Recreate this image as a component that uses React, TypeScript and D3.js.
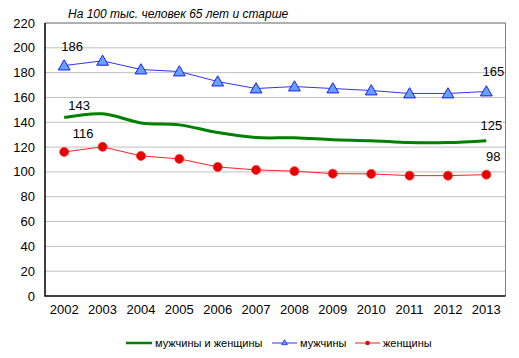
import { useEffect, useRef } from 'react';
import * as d3 from 'd3';

const years = ['2002', '2003', '2004', '2005', '2006', '2007', '2008', '2009', '2010', '2011', '2012', '2013'];
const total = [143.8, 146.8, 139.5, 137.9, 131.7, 127.7, 127.5, 126, 125.2, 123.6, 123.6, 125.2];
const men = [185.7, 189.5, 182.5, 180.9, 172.8, 167.2, 168.8, 167.2, 165.6, 163.2, 163.2, 164.8];
const women = [116.1, 120.2, 112.9, 110.5, 104, 101.6, 100.6, 98.6, 98.4, 97, 97, 97.8];
const yTicks = [0, 20, 40, 60, 80, 100, 120, 140, 160, 180, 200, 220];

const FONT = 'Arial, "Liberation Sans", sans-serif';

export default function App() {
  const svgRef = useRef<SVGSVGElement>(null);

  useEffect(() => {
    if (!svgRef.current) return;
    const width = 519;
    const height = 358;
    const m = { left: 45, right: 13.5, top: 23, bottom: 62 };

    const svg = d3.select(svgRef.current);
    svg.selectAll('*').remove();
    svg.attr('width', width).attr('height', height);

    svg.append('rect').attr('width', width).attr('height', height).style('fill', '#fff');

    const x = d3.scaleBand().domain(years).range([m.left, width - m.right]);
    const y = d3.scaleLinear().domain([0, 220]).range([height - m.bottom, m.top]);
    const cx = (i: number) => (x(years[i]) as number) + x.bandwidth() / 2;

    // grid
    svg.append('g')
      .selectAll('line')
      .data(yTicks.slice(1))
      .enter()
      .append('line')
      .attr('x1', m.left).attr('x2', width - m.right)
      .attr('y1', d => y(d)).attr('y2', d => y(d))
      .style('stroke', '#c0c0c0')
      .style('stroke-width', 1);

    // plot border (top, right)
    svg.append('path')
      .attr('d', `M${m.left},${y(220)}H${width - m.right}V${y(0)}`)
      .style('fill', 'none')
      .style('stroke', '#808080')
      .style('stroke-width', 1);

    // axes
    svg.append('path')
      .attr('d', `M${m.left},${y(220)}V${y(0)}H${width - m.right}`)
      .style('fill', 'none')
      .style('stroke', '#000')
      .style('stroke-width', 1.5);

    svg.append('g')
      .selectAll('text')
      .data(yTicks)
      .enter()
      .append('text')
      .attr('x', 35)
      .attr('y', d => y(d))
      .attr('dy', '0.35em')
      .attr('text-anchor', 'end')
      .text(d => d)
      .style('font-family', FONT)
      .style('font-size', '13px')
      .style('fill', '#000');

    svg.append('g')
      .selectAll('text')
      .data(years)
      .enter()
      .append('text')
      .attr('x', (_, i) => cx(i))
      .attr('y', y(0) + 13)
      .attr('dy', '0.35em')
      .attr('text-anchor', 'middle')
      .text(d => d)
      .style('font-family', FONT)
      .style('font-size', '13px')
      .style('fill', '#000');

    // title
    svg.append('text')
      .attr('x', 68)
      .attr('y', 14)
      .attr('dy', '0.35em')
      .text('На 100 тыс. человек 65 лет и старше')
      .style('font-family', FONT)
      .style('font-size', '12px')
      .style('font-style', 'italic')
      .style('fill', '#000');

    const straight = d3.line<number>().x((_, i) => cx(i)).y(d => y(d));
    const smooth = d3.line<number>().x((_, i) => cx(i)).y(d => y(d)).curve(d3.curveCatmullRom.alpha(0.5));

    // total (smoothed, thick green)
    svg.append('path')
      .attr('d', smooth(total) as string)
      .style('fill', 'none')
      .style('stroke', '#008000')
      .style('stroke-width', 3);

    // men
    svg.append('path')
      .attr('d', straight(men) as string)
      .style('fill', 'none')
      .style('stroke', '#3333ff')
      .style('stroke-width', 1);

    const tri = d3.symbol().type(d3.symbolTriangle).size(60);
    svg.append('g')
      .selectAll('path')
      .data(men)
      .enter()
      .append('path')
      .attr('d', tri() as string)
      .attr('transform', (d, i) => `translate(${cx(i)},${y(d) + 1})`)
      .style('fill', '#66a3ff')
      .style('stroke', '#1a1aff')
      .style('stroke-width', 1);

    // women
    svg.append('path')
      .attr('d', straight(women) as string)
      .style('fill', 'none')
      .style('stroke', '#ff2020')
      .style('stroke-width', 1);

    svg.append('g')
      .selectAll('circle')
      .data(women)
      .enter()
      .append('circle')
      .attr('cx', (_, i) => cx(i))
      .attr('cy', d => y(d))
      .attr('r', 4.5)
      .style('fill', '#e60000')
      .style('stroke', '#ff3030')
      .style('stroke-width', 0.8);

    // value labels at ends
    const last = years.length - 1;
    const labels = [
      { t: '186', x: cx(0) + 8, y: y(men[0]) - 19 },
      { t: '143', x: cx(0) + 15, y: y(total[0]) - 12 },
      { t: '116', x: cx(0) + 19, y: y(women[0]) - 18 },
      { t: '165', x: cx(last) + 7, y: y(men[last]) - 20 },
      { t: '125', x: cx(last) + 5, y: y(total[last]) - 15 },
      { t: '98', x: cx(last) + 7, y: y(women[last]) - 18 },
    ];
    svg.append('g')
      .selectAll('text')
      .data(labels)
      .enter()
      .append('text')
      .attr('x', d => d.x)
      .attr('y', d => d.y)
      .attr('dy', '0.35em')
      .attr('text-anchor', 'middle')
      .text(d => d.t)
      .style('font-family', FONT)
      .style('font-size', '13px')
      .style('fill', '#000');

    // legend
    const ly = 343;
    const legend = svg.append('g').style('font-family', FONT).style('font-size', '11px');
    legend.append('line').attr('x1', 126).attr('x2', 152).attr('y1', ly).attr('y2', ly)
      .style('stroke', '#008000').style('stroke-width', 2.5);
    legend.append('text').attr('x', 155).attr('y', ly).attr('dy', '0.35em').text('мужчины и женщины');

    legend.append('line').attr('x1', 272).attr('x2', 297).attr('y1', ly).attr('y2', ly)
      .style('stroke', '#3333ff').style('stroke-width', 1);
    legend.append('path').attr('d', d3.symbol().type(d3.symbolTriangle).size(14)() as string)
      .attr('transform', `translate(284.5,${ly})`)
      .style('fill', '#66a3ff').style('stroke', '#1a1aff').style('stroke-width', 0.8);
    legend.append('text').attr('x', 300).attr('y', ly).attr('dy', '0.35em').text('мужчины');

    legend.append('line').attr('x1', 355).attr('x2', 380).attr('y1', ly).attr('y2', ly)
      .style('stroke', '#ff2020').style('stroke-width', 1);
    legend.append('circle').attr('cx', 367.5).attr('cy', ly).attr('r', 2.2).style('fill', '#e60000');
    legend.append('text').attr('x', 383).attr('y', ly).attr('dy', '0.35em').text('женщины');
  }, []);

  return (
    <svg ref={svgRef} style={{ position: 'absolute', left: 0, top: 0, display: 'block' }} />
  );
}
